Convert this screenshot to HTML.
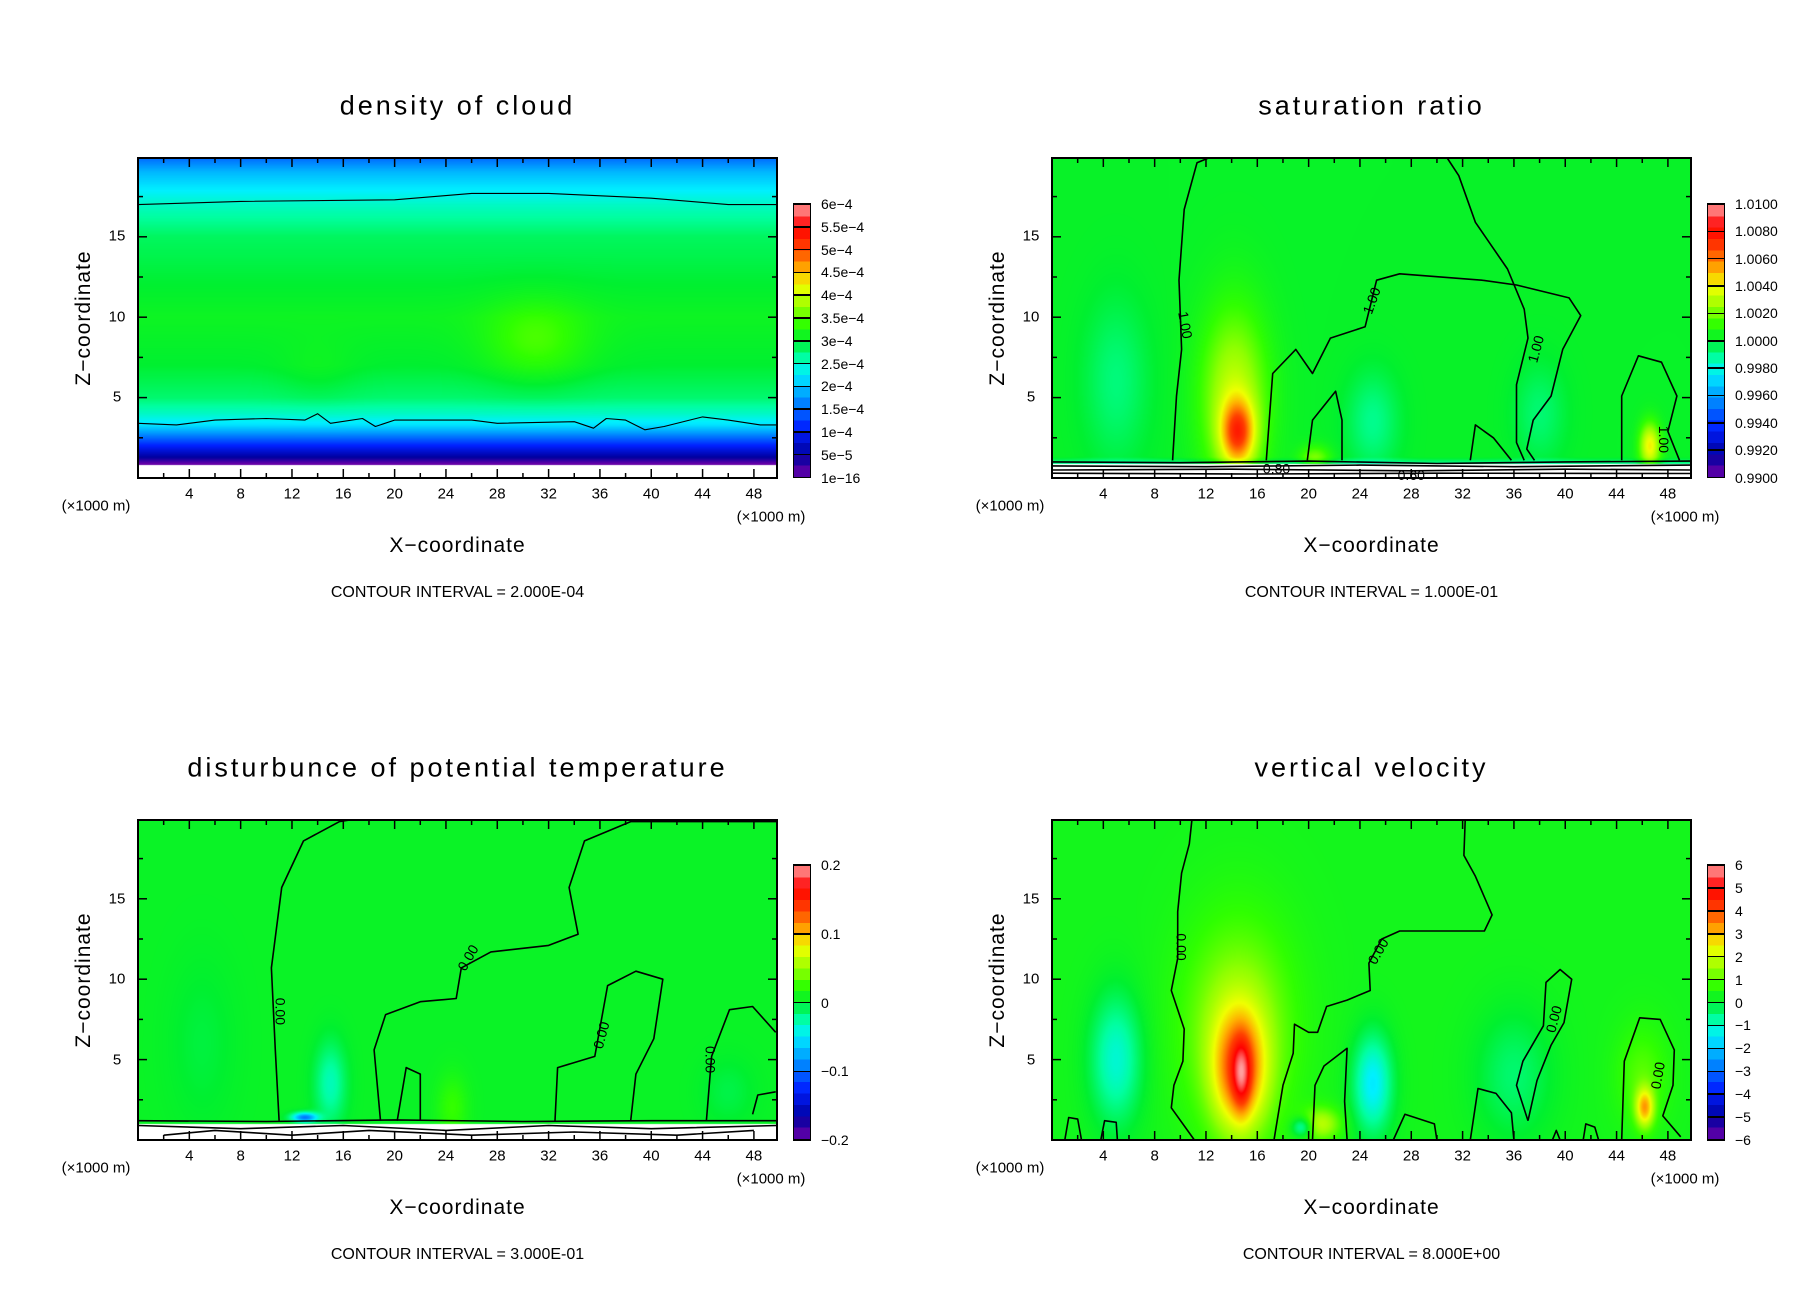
<!DOCTYPE html>
<html><head><meta charset="utf-8">
<style>
body{margin:0;background:#fff;width:1808px;height:1308px;position:relative;overflow:hidden;font-family:"Liberation Sans",sans-serif;}
.panel{position:absolute;left:0;top:0;width:904px;height:654px;}
.plot{position:absolute;width:639px;height:320px;}
.plot canvas{position:absolute;left:0;top:0;}
.plot svg{position:absolute;left:0;top:0;overflow:visible;}
.t{position:absolute;white-space:nowrap;color:#000;}
.title{font-size:27px;letter-spacing:3px;transform:translate(-50%,-50%);}
.tick{font-size:15px;transform:translate(-50%,-50%);}
.lab{font-size:21px;letter-spacing:1px;transform:translate(-50%,-50%);}
.ci{font-size:16px;transform:translate(-50%,-50%);}
.cb{position:absolute;width:18px;border:1.5px solid #000;box-sizing:border-box;}
.cbl{font-size:14px;transform:translateY(-50%);}
</style></head><body>
<div id="root"></div>
<script>
// ---------- shared data ----------
const xTickLabels=[4,8,12,16,20,24,28,32,36,40,44,48];
const zTickLabels=[5,10,15];
const cmapPos=[0,0.08,0.18,0.3,0.38,0.44,0.5,0.56,0.62,0.7,0.76,0.84,0.92,1];
const cmapCol=["#7000a8","#0000a0","#0020ff","#00a0ff","#00f0ff","#00ffa0","#00f030","#30ff00","#90ff00","#f0ff00","#ffb000","#ff4000","#ff0000","#ffa0a0"];
const XMAX=49.8, ZMAX=19.9;

// ---------- panel 1: density of cloud ----------
const p1ProfZ=[0,0.8,0.9,1.2,1.8,2.5,3.3,4,5,7,10,12,15,17,18,19,19.9];
const p1ProfV=[-1,-1,0.05e-4,0.4e-4,0.9e-4,1.5e-4,2.2e-4,2.5e-4,2.8e-4,3.0e-4,3.1e-4,3.0e-4,2.85e-4,2.5e-4,2.25e-4,1.95e-4,1.5e-4];
const p1Blobs=[[31,8.5,4,2.5,0.4e-4],[14,6.5,3,2,0.1e-4]];
const p1Labels=["1e-16","5e-5","1e-4","1.5e-4","2e-4","2.5e-4","3e-4","3.5e-4","4e-4","4.5e-4","5e-4","5.5e-4","6e-4"];
const p1C1=[[0,17],[8,17.2],[20,17.3],[26,17.7],[32,17.7],[40,17.4],[46,17],[49.8,17]];
const p1C2=[[0,3.4],[3,3.3],[6,3.6],[10,3.7],[13,3.6],[14,4.0],[15,3.4],[17.5,3.7],[18.5,3.2],[20,3.6],[26,3.6],[28,3.4],[34,3.5],[35.5,3.1],[36.5,3.7],[38,3.6],[39.5,3.0],[41,3.2],[44,3.8],[46,3.6],[48.5,3.3],[49.8,3.3]];

// ---------- panel 2: saturation ratio ----------
const p2ProfZ=[0,0.85,0.9,1.3,19.9];
const p2ProfV=[-1,-1,0.9990,1.0002,1.0002];
const p2Blobs=[[14.5,2.8,1.3,2.0,0.005],[14.2,5,2.6,5.5,0.003],[5,6,2.5,5,-0.001],[25,3.5,2,3,-0.0012],[38,4,2,3,-0.0009],[46.6,2,0.8,1.4,0.004],[20.5,1.2,1.2,0.8,0.002]];
const p2Labels=["0.9900","0.9920","0.9940","0.9960","0.9980","1.0000","1.0020","1.0040","1.0060","1.0080","1.0100"];
const p2Cs=[
 [[9.4,1.1],[9.7,5.1],[10.1,8],[9.9,12.3],[10.3,16.7],[11.3,19.6],[12.2,19.9],[30.8,19.9],[31.7,18.8],[33,15.9],[35.5,13],[36.8,10.5],[37.1,8.7],[36.2,5.8],[36.2,2.2],[36.8,1.1]],
 [[16.7,1.1],[17.2,6.5],[19,8],[20.3,6.5],[21.7,8.7],[24.4,9.4],[25.3,12.3],[27.1,12.7],[33.5,12.3],[36.2,12],[40.3,11.2],[41.2,10.1],[39.8,8],[38.9,5.1],[37.5,3.6],[37,1.8],[37.6,1.1]],
 [[44.4,1.1],[44.4,5.1],[45.7,7.6],[47.5,7.2],[48.7,5.1],[48,2.9],[48.9,1.1]],
 [[19.9,1.1],[20.3,3.6],[22.1,5.4],[22.6,3.6],[22.6,1.1]],
 [[32.6,1.1],[33,3.3],[34.4,2.5],[35.8,1.1]],
 [[0,1.0],[10,0.95],[20,1.05],[30,0.9],[40,1.0],[49.8,1.05]],
 [[0,0.75],[12,0.7],[24,0.8],[36,0.7],[49.8,0.8]],
 [[0,0.5],[14,0.55],[28,0.45],[40,0.55],[49.8,0.5]],
 [[0,0.3],[16,0.25],[30,0.3],[49.8,0.28]]
];
const p2Text=[["1.00",10.3,9.5,80],["1.00",25,11,-70],["1.00",37.8,8,-75],["1.00",47.6,2.4,90],["0.80",17.5,0.5,0],["0.60",28,0.1,0]];

// ---------- panel 3: disturbance of potential temperature ----------
const p3ProfZ=[0,1.0,1.3,19.9];
const p3ProfV=[-1,-1,0.005,0.005];
const p3Blobs=[[15,3.5,1.2,2.5,-0.035],[5,6,2.5,5,-0.008],[24.5,2,1.2,2,0.02],[46,3,2,2,-0.01],[13,1.4,1,0.3,-0.1]];
const p3Labels=["-0.2","-0.1","0","0.1","0.2"];
const p3Cs=[
 [[11,1.2],[10.7,5.6],[10.4,10.7],[11.2,15.7],[12.9,18.6],[15.7,19.8],[16.5,19.9]],
 [[49.8,19.8],[38.4,19.8],[34.8,18.6],[33.6,15.7],[34.3,12.8],[32,12.1],[27.5,11.7],[25.2,10.7],[24.8,8.8],[22,8.6],[19.3,7.8],[18.4,5.6],[18.9,1.2]],
 [[32.5,1.2],[32.7,4.5],[35.6,5.2],[36.6,9.6],[38.8,10.5],[40.9,10],[40.2,6.3],[38.8,4.1],[38.4,1.2]],
 [[44.3,1.2],[44.7,5.2],[46.1,8.1],[47.9,8.3],[49.7,6.7]],
 [[49.7,3],[48.3,2.8],[47.9,1.6]],
 [[20.2,1.2],[20.9,4.5],[22,4.1],[22,1.2]],
 [[0,1.2],[10,1.15],[20,1.25],[30,1.15],[40,1.2],[49.8,1.2]],
 [[0,0.9],[8,0.7],[16,0.9],[24,0.6],[32,0.9],[40,0.7],[49.8,0.9]],
 [[2,0.3],[6,0.6],[12,0.3],[18,0.6],[26,0.3],[34,0.5],[42,0.3],[48,0.6]]
];
const p3Text=[["0.00",11,8,90],["0.00",25.8,11.3,-60],["0.00",36.2,6.5,-75],["0.00",44.5,5,90]];

// ---------- panel 4: vertical velocity ----------
const p4ProfZ=[0,19.9];
const p4ProfV=[0.3,0.3];
const p4Blobs=[[14.6,4.3,2.0,3.6,3.0],[14.8,4,0.7,2.2,1.6],[14.5,7,4.2,6.5,1.4],[5,5,2,4,-1.4],[25,3.5,1.5,3,-1.8],[36,4,3,4,-0.7],[46.2,2,0.7,1.2,2.6],[46,4,2,3,0.7],[21,1,1.5,1,1.5],[19.5,0.8,0.8,0.6,-1.5]];
const p4Labels=["-6","-5","-4","-3","-2","-1","0","1","2","3","4","5","6"];
const p4Cs=[
 [[10.9,19.9],[10.7,18.4],[10.1,16.6],[9.8,14.2],[9.8,11.3],[9.3,9.3],[10.3,6.9],[10.2,4.9],[9.5,3.4],[9.3,2],[11.1,0]],
 [[17.3,0],[18,3.4],[18.8,5.4],[18.9,7.2],[20,6.7],[20.7,6.7],[21.4,8.3],[23,8.7],[24.8,9.3],[24.7,11],[25.7,12.5],[27.1,13],[33.7,13],[34.3,14],[33,16.4],[32.1,17.7],[32.2,19.9]],
 [[37.1,1.2],[36.2,3.4],[36.7,4.9],[38.3,7.1],[38.5,9.8],[39.6,10.6],[40.5,10],[39.9,7.3],[38.9,5.9],[37.8,3.7],[37.1,1.2]],
 [[44.4,0],[44.6,4.9],[45.8,7.6],[47.4,7.5],[48.5,5.6],[48.4,3.4],[47.6,1.5],[49,0.2]],
 [[20.3,0],[20.5,3.4],[21.2,4.6],[23,5.7],[22.8,2.4],[23,0]],
 [[32.6,0],[33.2,3.2],[34.6,2.9],[35.8,1.7],[36,0]],
 [[26.6,0],[27.5,1.6],[29.8,1],[30,0]],
 [[1,0],[1.3,1.4],[2,1.3],[2.3,0]],
 [[3.8,0],[4.1,1.2],[5,1.1],[5.1,0]],
 [[39,0],[39.3,0.6],[39.6,0]],
 [[41.4,0],[41.6,1.0],[42.3,0.8],[42.6,0]]
];
const p4Text=[["0.00",10,12,90],["0.00",25.5,11.7,-60],["0.00",39.2,7.5,-75],["0.00",47.3,4,-80]];

const panels=[
 {name:"density-of-cloud",title:"density of cloud",ci:"CONTOUR INTERVAL = 2.000E-04",L:138,T:157.5,cbTop:46.5,vmin:0,vmax:6e-4,pz:p1ProfZ,pv:p1ProfV,blobs:p1Blobs,labels:p1Labels,cs:[p1C1,p1C2],txt:[],lw:1.1},
 {name:"saturation-ratio",title:"saturation ratio",ci:"CONTOUR INTERVAL = 1.000E-01",L:1052,T:157.5,cbTop:46.5,vmin:0.99,vmax:1.01,pz:p2ProfZ,pv:p2ProfV,blobs:p2Blobs,labels:p2Labels,cs:p2Cs,txt:p2Text,lw:1.6},
 {name:"potential-temperature-disturbance",title:"disturbunce of potential temperature",ci:"CONTOUR INTERVAL = 3.000E-01",L:138,T:820,cbTop:45,vmin:-0.2,vmax:0.2,pz:p3ProfZ,pv:p3ProfV,blobs:p3Blobs,labels:p3Labels,cs:p3Cs,txt:p3Text,lw:1.6},
 {name:"vertical-velocity",title:"vertical velocity",ci:"CONTOUR INTERVAL = 8.000E+00",L:1052,T:820,cbTop:45,vmin:-6,vmax:6,pz:p4ProfZ,pv:p4ProfV,blobs:p4Blobs,labels:p4Labels,cs:p4Cs,txt:p4Text,lw:1.6}
];

const W=639,H=320;
const sx=x=>x/XMAX*W, sz=z=>H-z/ZMAX*H;
const hex=h=>[parseInt(h.slice(1,3),16),parseInt(h.slice(3,5),16),parseInt(h.slice(5,7),16)];
const cmapRGB=cmapCol.map(hex);
function colorAt(t){
  t=Math.max(0,Math.min(1,t));
  for(let i=1;i<cmapPos.length;i++){ if(t<=cmapPos[i]){const f=(t-cmapPos[i-1])/(cmapPos[i]-cmapPos[i-1]);const a=cmapRGB[i-1],b=cmapRGB[i];
    return [a[0]+(b[0]-a[0])*f,a[1]+(b[1]-a[1])*f,a[2]+(b[2]-a[2])*f];}}
  return cmapRGB[cmapRGB.length-1];
}
const rgbs=c=>'rgb('+c.map(Math.round).join(',')+')';
function interp(zs,vs,z){
  if(z<=zs[0])return vs[0];
  for(let i=1;i<zs.length;i++){ if(z<=zs[i]){
    if(vs[i-1]===-1||vs[i]===-1) return vs[i-1]===-1&&vs[i]===-1?-1:(vs[i-1]===-1?vs[i]:vs[i-1]);
    const t=(z-zs[i-1])/(zs[i]-zs[i-1]); return vs[i-1]+t*(vs[i]-vs[i-1]);} }
  return vs[vs.length-1];
}
const root=document.getElementById('root');
const NS="http://www.w3.org/2000/svg";
function txt(parent,cls,s,x,y,name){const d=document.createElement('div');d.className='t '+cls;d.textContent=s;d.style.left=x+'px';d.style.top=y+'px';
  
  
  parent.appendChild(d);return d;}

panels.forEach(p=>{
  const pan=document.createElement('div');pan.className='panel';
  
  
  root.appendChild(pan);
  const cx=p.L+W/2;
  txt(pan,'title',p.title,cx,p.T-52,'chart-title');
  const plot=document.createElement('div');plot.className='plot';plot.style.left=p.L+'px';plot.style.top=p.T+'px';
  
  
  pan.appendChild(plot);
  const cv=document.createElement('canvas');cv.width=W;cv.height=H;
  
  
  plot.appendChild(cv);
  const ctx=cv.getContext('2d');
  const img=ctx.createImageData(W,H);
  for(let py=0;py<H;py++){
    const z=(H-py-0.5)/H*ZMAX;
    const base=interp(p.pz,p.pv,z);
    for(let px=0;px<W;px++){
      const o=(py*W+px)*4;
      if(base===-1){img.data[o]=255;img.data[o+1]=255;img.data[o+2]=255;img.data[o+3]=255;continue;}
      const x=(px+0.5)/W*XMAX;
      let v=base;
      for(const b of p.blobs){const dx=(x-b[0])/b[2],dz=(z-b[1])/b[3];v+=b[4]*Math.exp(-dx*dx-dz*dz);}
      const c=colorAt((v-p.vmin)/(p.vmax-p.vmin));
      img.data[o]=c[0];img.data[o+1]=c[1];img.data[o+2]=c[2];img.data[o+3]=255;
    }
  }
  ctx.putImageData(img,0,0);
  const svg=document.createElementNS(NS,'svg');svg.setAttribute('width',W);svg.setAttribute('height',H);
  
  
  plot.appendChild(svg);
  p.cs.forEach(c=>{const pl=document.createElementNS(NS,'polyline');
    pl.setAttribute('points',c.map(q=>sx(q[0]).toFixed(1)+','+sz(q[1]).toFixed(1)).join(' '));
    pl.setAttribute('fill','none');pl.setAttribute('stroke','#000');pl.setAttribute('stroke-width',p.lw);pl.setAttribute('stroke-linejoin','round');
    
    
    svg.appendChild(pl);});
  p.txt.forEach(t=>{const e=document.createElementNS(NS,'text');
    const X=sx(t[1]),Y=sz(t[2]);
    e.setAttribute('x',X);e.setAttribute('y',Y);e.setAttribute('font-size','14');e.setAttribute('text-anchor','middle');e.setAttribute('dominant-baseline','middle');
    e.setAttribute('font-family','Liberation Sans, sans-serif');
    e.setAttribute('transform','rotate('+t[3]+' '+X+' '+Y+')');e.textContent=t[0];
    
    
    svg.appendChild(e);});
  for(let k=1;k<25;k++){const x=sx(k*2),len=(k%2===0)?9:5;
    [[H,H-len],[0,len]].forEach(s=>{const l=document.createElementNS(NS,'line');l.setAttribute('x1',x);l.setAttribute('x2',x);l.setAttribute('y1',s[0]);l.setAttribute('y2',s[1]);l.setAttribute('stroke','#000');l.setAttribute('stroke-width','1.5');svg.appendChild(l);});}
  for(let k=1;k<8;k++){const y=sz(k*2.5),len=(k%2===0)?9:5;
    [[0,len],[W,W-len]].forEach(s=>{const l=document.createElementNS(NS,'line');l.setAttribute('y1',y);l.setAttribute('y2',y);l.setAttribute('x1',s[0]);l.setAttribute('x2',s[1]);l.setAttribute('stroke','#000');l.setAttribute('stroke-width','1.5');svg.appendChild(l);});}
  const fr=document.createElementNS(NS,'rect');fr.setAttribute('x',0);fr.setAttribute('y',0);fr.setAttribute('width',W);fr.setAttribute('height',H);fr.setAttribute('fill','none');fr.setAttribute('stroke','#000');fr.setAttribute('stroke-width','2');
  
  
  svg.appendChild(fr);
  xTickLabels.forEach(v=>txt(pan,'tick',String(v),p.L+sx(v),p.T+H+16,'x-tick-label'));
  zTickLabels.forEach(v=>txt(pan,'tick',String(v),p.L-21,p.T+sz(v),'z-tick-label'));
  txt(pan,'tick','(×1000 m)',p.L-42,p.T+H+28,'x-unit-left');
  txt(pan,'tick','(×1000 m)',p.L+W-6,p.T+H+39,'x-unit-right');
  txt(pan,'lab','X\u2212coordinate',cx,p.T+H+68,'x-axis-title');
  const zl=txt(pan,'lab','Z\u2212coordinate',p.L-54,p.T+H/2,'z-axis-title');zl.style.transform='translate(-50%,-50%) rotate(-90deg)';
  txt(pan,'ci',p.ci,cx,p.T+H+115,'contour-interval-note');
  const cb=document.createElement('div');cb.className='cb';
  const cbT=p.T+p.cbTop,cbH=H-p.cbTop;
  cb.style.left=(p.L+655)+'px';cb.style.top=cbT+'px';cb.style.height=cbH+'px';
  
  
  const NS_=24;let g=[];
  for(let i=0;i<NS_;i++){const c=rgbs(colorAt((i+0.5)/NS_));const a=(i/NS_*100).toFixed(2),b=((i+1)/NS_*100).toFixed(2);g.push(c+' '+a+'%',c+' '+b+'%');}
  cb.style.background='linear-gradient(to top,'+g.join(',')+')';
  pan.appendChild(cb);
  const nl=p.labels.length;
  p.labels.forEach((s,i)=>{const y=cbT+cbH-i/(nl-1)*cbH;
    txt(pan,'cbl',s.replace(/-/g,'\u2212'),p.L+683,y,'colorbar-label');
    const ln=document.createElement('div');ln.style.cssText='position:absolute;height:1.5px;background:#000;width:18px;left:'+(p.L+655)+'px;top:'+(y-0.75)+'px';
    pan.appendChild(ln);});
});
</script>
</body></html>
